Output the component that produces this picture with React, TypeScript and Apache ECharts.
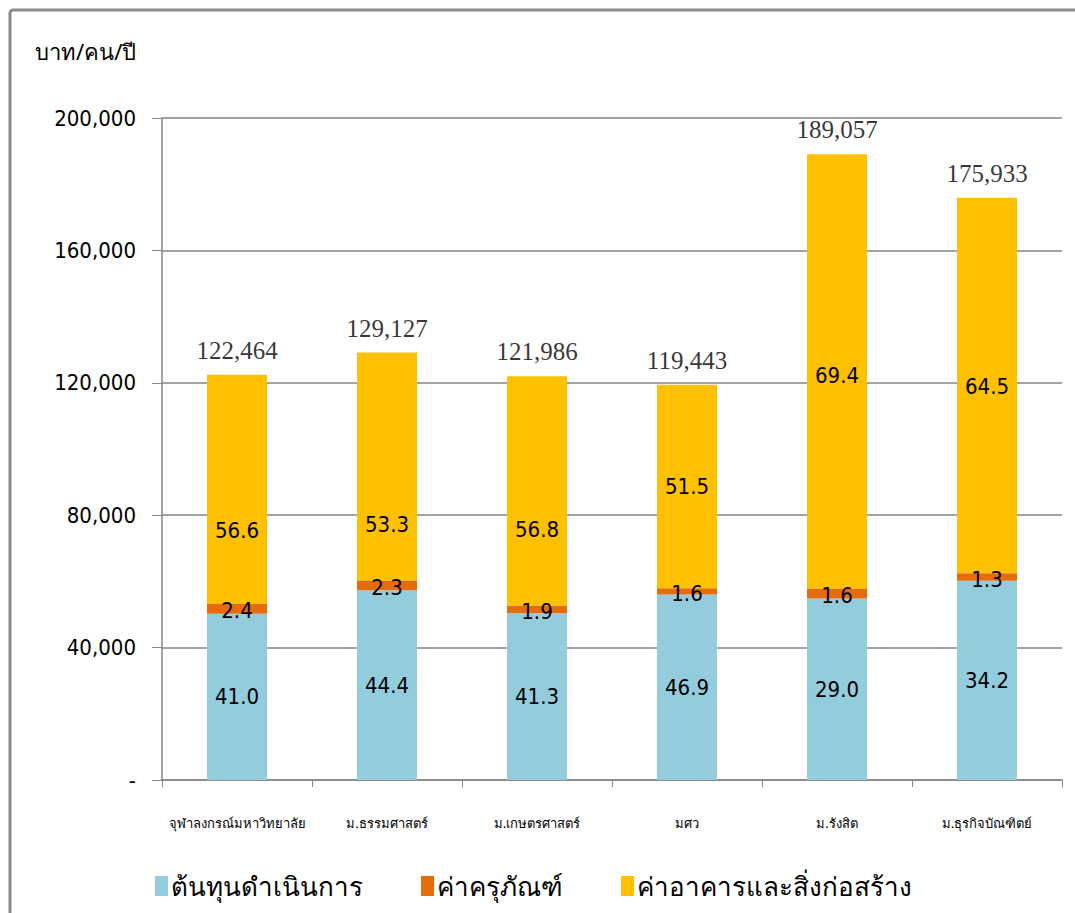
import React, { useEffect, useRef } from "react";
import * as echarts from "echarts";

const categories = [
  "จุฬาลงกรณ์มหาวิทยาลัย",
  "ม.ธรรมศาสตร์",
  "ม.เกษตรศาสตร์",
  "มศว",
  "ม.รังสิต",
  "ม.ธุรกิจบัณฑิตย์",
];
const totals = [122464, 129127, 121986, 119443, 189057, 175933];
const operatingShare = [41.0, 44.4, 41.3, 46.9, 29.0, 34.2];
const equipmentShare = [2.4, 2.3, 1.9, 1.6, 1.6, 1.3];
const buildingShare = [56.6, 53.3, 56.8, 51.5, 69.4, 64.5];
const seriesNames = ["ต้นทุนดำเนินการ", "ค่าครุภัณฑ์", "ค่าอาคารและสิ่งก่อสร้าง"];
const yTickValues = [0, 40000, 80000, 120000, 160000, 200000];
const unitLabel = "บาท/คน/ปี";

// label vertical nudges (style, not data)
const buildingLabelDy = [41, 58, 39, 0, 4, 1];

const NARROW = '"DejaVu Sans Condensed", "Liberation Sans Narrow", sans-serif';
const THAI = '"Noto Sans", "DejaVu Sans", sans-serif';

export default function App() {
  const ref = useRef<HTMLDivElement>(null);
  useEffect(() => {
    if (!ref.current) return;
    const chart = echarts.init(ref.current, null, { renderer: "svg" });
    const part = (share: number[]) => totals.map((t, i) => (t * share[i]) / 100);
    const segLabel = (share: number[]) => ({
      show: true,
      position: "inside" as const,
      color: "#000",
      fontFamily: NARROW,
      fontSize: 22,
      formatter: (p: any) => share[p.dataIndex].toFixed(1),
    });
    chart.setOption({
      animation: false,
      backgroundColor: "#fff",
      grid: { left: 162, right: 13, top: 118, bottom: 133, containLabel: false },
      legend: {
        data: seriesNames,
        top: 868,
        left: 150,
        itemWidth: 13,
        itemHeight: 20,
        itemGap: 58,
        icon: "rect",
        textStyle: { fontFamily: THAI, fontSize: 26, color: "#000", padding: [0, 0, 0, -2] },
      },
      graphic: [
        {
          type: "rect",
          shape: { x: 10, y: 10, width: 1200, height: 1000, r: 3 },
          style: { fill: "none", stroke: "#8a8a8a", lineWidth: 3 },
          silent: true,
        },
        {
          type: "text",
          x: 35,
          y: 40,
          style: { text: unitLabel, fontFamily: THAI, fontSize: 22, fill: "#000" },
        },
      ],
      xAxis: {
        type: "category",
        data: categories,
        axisLine: { lineStyle: { color: "#868686", width: 1.5 } },
        axisTick: { show: true, length: 7, alignWithLabel: false, lineStyle: { color: "#868686" } },
        axisLabel: { color: "#000", fontFamily: THAI, fontSize: 13, margin: 36, interval: 0 },
      },
      yAxis: {
        type: "value",
        min: 0,
        max: 200000,
        interval: 40000,
        axisLine: { show: true, lineStyle: { color: "#868686", width: 1.5 } },
        axisTick: { show: true, length: 10, lineStyle: { color: "#868686" } },
        splitLine: { lineStyle: { color: "#868686", width: 1.5 } },
        axisLabel: {
          color: "#000",
          fontFamily: NARROW,
          fontSize: 22,
          margin: 26,
          customValues: yTickValues,
          formatter: (v: number) => (v === 0 ? "-" : v.toLocaleString("en-US")),
        },
      },
      series: [
        {
          name: seriesNames[0],
          type: "bar",
          stack: "total",
          barWidth: "40%",
          itemStyle: { color: "#93CDDD" },
          label: segLabel(operatingShare),
          data: part(operatingShare),
        },
        {
          name: seriesNames[1],
          type: "bar",
          stack: "total",
          itemStyle: { color: "#E46C0A" },
          label: { ...segLabel(equipmentShare), offset: [0, 2] },
          data: part(equipmentShare),
        },
        {
          name: seriesNames[2],
          type: "bar",
          stack: "total",
          itemStyle: { color: "#FFC000" },
          label: segLabel(buildingShare),
          data: part(buildingShare).map((v, i) => ({ value: v, label: { offset: [0, buildingLabelDy[i]] } })),
        },
        {
          name: "total",
          type: "scatter",
          symbolSize: 0,
          silent: true,
          label: {
            show: true,
            position: "top",
            distance: 12,
            color: "#000",
            fontFamily: '"Liberation Serif", "DejaVu Serif", serif',
            fontSize: 25,
            formatter: (p: any) => totals[p.dataIndex].toLocaleString("en-US"),
          },
          data: totals,
        },
      ],
    });
    return () => chart.dispose();
  }, []);
  return (
    <div
      ref={ref}
      style={{ position: "absolute", left: 0, top: 0, width: 1075, height: 913 }}
    />
  );
}
